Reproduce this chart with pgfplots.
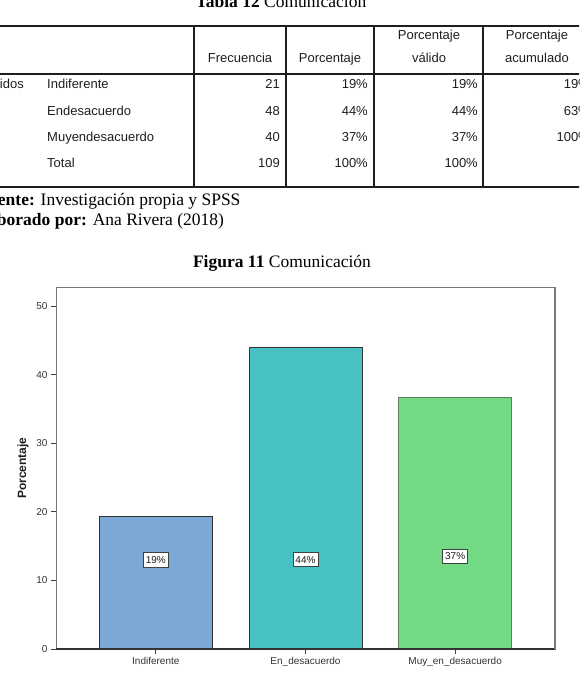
\documentclass[border=0pt]{standalone}
\usepackage{pgfplots}
\pgfplotsset{compat=1.18}
\usepackage{fontspec}
\setmainfont{Liberation Serif}
\newfontfamily\arial{Liberation Sans}
\definecolor{barA}{RGB}{123,168,212}
\definecolor{barB}{RGB}{72,193,196}
\definecolor{barC}{RGB}{114,218,132}
\definecolor{edgeC}{RGB}{95,125,95}
\definecolor{framec}{RGB}{120,120,120}
\definecolor{txt}{RGB}{30,30,30}
\begin{document}
\begin{tikzpicture}
\useasboundingbox (0pt,0pt) rectangle (579pt,-676pt);
\clip (0pt,0pt) rectangle (579pt,-676pt);
\begin{scope}[x=1pt,y=-1pt]
\node[anchor=base, inner sep=0] at (281,8) {\fontsize{17.5}{20}\selectfont\textbf{Tabla 12} Comunicación};
\draw[line width=2.4pt, txt] (0,26) -- (600,26);
\draw[line width=2pt, txt] (0,74) -- (600,74);
\draw[line width=2.6pt, txt] (0,187) -- (600,187);
\draw[line width=2.4pt, txt] (194,26) -- (194,187);
\draw[line width=1.4pt, txt] (286,26) -- (286,187);
\draw[line width=1.8pt, txt] (374,26) -- (374,187);
\draw[line width=1.8pt, txt] (483,26) -- (483,187);
\begin{scope}[every node/.style={inner sep=0, font=\arial\fontsize{13}{15}\selectfont, text=txt}]
\node[anchor=base] at (240,62.7) {Frecuencia};
\node[anchor=base] at (330,62.7) {Porcentaje};
\node[anchor=base] at (429,39.7) {Porcentaje};
\node[anchor=base] at (429,62.7) {válido};
\node[anchor=base] at (537,39.7) {Porcentaje};
\node[anchor=base] at (537,62.7) {acumulado};
\node[anchor=base west] at (-19,88.7) {Válidos};
\node[anchor=base west] at (47,88.7) {Indiferente};
\node[anchor=base west] at (47,115.7) {Endesacuerdo};
\node[anchor=base west] at (47,141.7) {Muyendesacuerdo};
\node[anchor=base west] at (47,167.7) {Total};
\node[anchor=base east] at (280,88.7) {21};
\node[anchor=base east] at (280,115.7) {48};
\node[anchor=base east] at (280,141.7) {40};
\node[anchor=base east] at (280,167.7) {109};
\node[anchor=base east] at (368,88.7) {19\%};
\node[anchor=base east] at (368,115.7) {44\%};
\node[anchor=base east] at (368,141.7) {37\%};
\node[anchor=base east] at (368,167.7) {100\%};
\node[anchor=base east] at (478,88.7) {19\%};
\node[anchor=base east] at (478,115.7) {44\%};
\node[anchor=base east] at (478,141.7) {37\%};
\node[anchor=base east] at (478,167.7) {100\%};
\node[anchor=base east] at (590,88.7) {19\%};
\node[anchor=base east] at (590,115.7) {63\%};
\node[anchor=base east] at (590,141.7) {100\%};
\end{scope}
\node[anchor=base west, inner sep=0] at (-22.7,206) {\fontsize{17.5}{20}\selectfont\textbf{Fuente:} Investigación propia y SPSS};
\node[anchor=base west, inner sep=0] at (-28.5,225) {\fontsize{17.5}{20}\selectfont\textbf{Elaborado por:} Ana Rivera (2018)};
\node[anchor=base, inner sep=0] at (282,267) {\fontsize{17.5}{20}\selectfont\textbf{Figura 11} Comunicación};
\end{scope}
\begin{axis}[
  at={(56pt,-649pt)}, anchor=south west,
  scale only axis, width=499pt, height=362pt,
  xmin=-0.667, xmax=2.667, ymin=0, ymax=52.8,
  ybar, bar width=113pt,
  every axis plot/.append style={bar shift=0pt},
  xtick={0,1,2},
  xticklabels={Indiferente,En\_desacuerdo,Muy\_en\_desacuerdo},
  ytick={0,10,20,30,40,50},
  tick align=outside, xtick pos=bottom, ytick pos=left,
  major tick length=5pt,
  tick style={line width=0.9pt, color=black!75},
  axis line style={draw=framec, line width=0.9pt},
  ticklabel style={font=\arial\fontsize{10}{11}\selectfont, text=black!80},
  /pgf/number format/assume math mode=true,
  ylabel={Porcentaje},
  every axis y label/.style={at={(axis description cs:0,0.5)}, xshift=-33pt, rotate=90, anchor=center, font=\arial\bfseries\fontsize{12}{14}\selectfont, text=txt},
  clip=false,
]
\addplot[fill=barA, draw=black!80, line width=0.9pt] coordinates {(0,19.27)};
\addplot[fill=barB, draw=black!80, line width=0.9pt] coordinates {(1,44.04)};
\addplot[fill=barC, draw=edgeC, line width=0.9pt] coordinates {(2,36.70)};
\addplot[draw=none, fill=none, nodes near coords, point meta=explicit symbolic,
  every node near coord/.append style={anchor=center, fill=white, draw=black!75, line width=0.8pt, inner xsep=2.5pt, inner ysep=3.5pt, text=txt, font=\arial\fontsize{10}{11}\selectfont}]
  coordinates {(0,13) [19\%] (1,13) [44\%] (2,13.5) [37\%]};
\draw[line width=2pt, black!80] (rel axis cs:0,0) -- (rel axis cs:1,0);
\draw[line width=1.6pt, framec] (rel axis cs:1,0) -- (rel axis cs:1,1);
\end{axis}
\end{tikzpicture}
\end{document}
